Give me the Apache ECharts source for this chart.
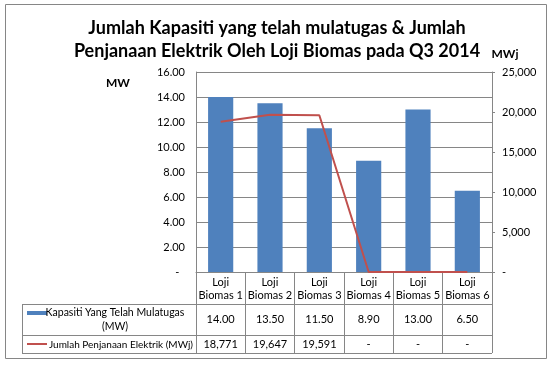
<!DOCTYPE html>
<html>
<head>
<meta charset="utf-8">
<script src="https://cdn.jsdelivr.net/npm/echarts@6/dist/echarts.min.js"></script>
<style>
html,body{margin:0;padding:0;background:#fff;}
#main{width:554px;height:366px;}
</style>
</head>
<body>
<div id="main"></div>
<script>
// ---- data ----
const categories = ['Loji Biomas 1', 'Loji Biomas 2', 'Loji Biomas 3', 'Loji Biomas 4', 'Loji Biomas 5', 'Loji Biomas 6'];
const capacityMW = [14.00, 13.50, 11.50, 8.90, 13.00, 6.50];
const energyMWj = [18771, 19647, 19591, 0, 0, 0];
const seriesNames = ['Kapasiti Yang Telah Mulatugas (MW)', 'Jumlah Penjanaan Elektrik (MWj)'];
const titleLines = ['Jumlah Kapasiti yang telah mulatugas & Jumlah', 'Penjanaan Elektrik Oleh Loji Biomas pada Q3 2014'];
const leftAxisTicks = [0, 2, 4, 6, 8, 10, 12, 14, 16];
const rightAxisTicks = [0, 5000, 10000, 15000, 20000, 25000];

const FONT = 'Lato';
const GRAY = '#868686';
const BLUE = '#4F81BD';
const RED = '#C0504D';

const fmtMW = v => v === 0 ? '-' : v.toFixed(2);
const fmtMWj = v => v === 0 ? '-' : v.toLocaleString('en-US');

const chart = echarts.init(document.getElementById('main'), null, {renderer: 'canvas'});

const GRID = {left: 196, right: 62, top: 72, bottom: 94};

const option = {
  animation: false,
  backgroundColor: '#fff',
  textStyle: {fontFamily: FONT},
  title: {
    text: titleLines.join('\n'),
    left: 'center',
    top: 12,
    textStyle: {fontFamily: FONT, fontWeight: 'bold', fontSize: 18, lineHeight: 23, color: '#000'}
  },
  grid: GRID,
  xAxis: {
    type: 'category',
    data: categories,
    boundaryGap: true,
    axisLine: {show: true, lineStyle: {color: GRAY, width: 1}},
    axisTick: {show: true, interval: 0, length: 81, lineStyle: {color: GRAY, width: 1}},
    axisLabel: {
      interval: 0, margin: 4, fontSize: 11, lineHeight: 13, color: '#000', fontFamily: FONT,
      formatter: v => v.replace(' ', '\n')
    },
    splitLine: {show: false}
  },
  yAxis: [
    {
      type: 'value', min: leftAxisTicks[0], max: leftAxisTicks[leftAxisTicks.length - 1],
      interval: leftAxisTicks[1] - leftAxisTicks[0],
      axisLine: {show: true, lineStyle: {color: GRAY}},
      axisTick: {show: false},
      axisLabel: {margin: 11, fontSize: 11, color: '#000', fontFamily: FONT, formatter: v => v === 0 ? '-  ' : v.toFixed(2)},
      splitLine: {show: true, lineStyle: {color: GRAY, width: 1}}
    },
    {
      type: 'value', min: rightAxisTicks[0], max: rightAxisTicks[rightAxisTicks.length - 1],
      interval: rightAxisTicks[1] - rightAxisTicks[0],
      position: 'right',
      axisLine: {show: true, lineStyle: {color: GRAY}},
      axisTick: {show: true, length: 3, lineStyle: {color: GRAY}},
      axisLabel: {margin: 10, fontSize: 11, color: '#000', fontFamily: FONT, formatter: v => v === 0 ? '-' : v.toLocaleString('en-US')},
      splitLine: {show: false}
    }
  ],
  series: [
    {
      name: seriesNames[0], type: 'bar', yAxisIndex: 0, data: capacityMW,
      barWidth: '51%', itemStyle: {color: BLUE}
    },
    {
      name: seriesNames[1], type: 'line', yAxisIndex: 1, data: energyMWj,
      showSymbol: false, symbol: 'none', lineStyle: {color: RED, width: 2}, itemStyle: {color: RED}
    }
  ]
};
chart.setOption(option);

function buildTable() {
  const xL = GRID.left, xR = 554 - GRID.right;
  const tL = 22;
  const rows = [304, 335, 353];
  const els = [];
  const ln = (x1, y1, x2, y2) => ({type: 'line', silent: true, shape: {x1, y1, x2, y2}, style: {stroke: GRAY, lineWidth: 1}});
  // outer border
  els.push({type: 'rect', silent: true, shape: {x: 5.5, y: 4.5, width: 541, height: 354}, style: {fill: null, stroke: GRAY, lineWidth: 1}});
  // table rules
  rows.forEach(y => els.push(ln(tL, y + 0.5, xR, y + 0.5)));
  els.push(ln(tL + 0.5, rows[0], tL + 0.5, rows[2] + 0.5));
  // legend keys
  els.push({type: 'rect', silent: true, shape: {x: 27, y: 311, width: 20, height: 4}, style: {fill: BLUE}});
  els.push(ln(27, 344, 47, 344));
  els[els.length - 1].style = {stroke: RED, lineWidth: 2};
  els.push({type: 'text', silent: true, x: 115, y: 319.5, style: {text: 'Kapasiti Yang Telah Mulatugas\n(MW)', align: 'center', verticalAlign: 'middle', fontSize: 10.5, lineHeight: 13.5, fontFamily: FONT, fill: '#000'}});
  els.push({type: 'text', silent: true, x: 121, y: 344.5, style: {text: seriesNames[1], align: 'center', verticalAlign: 'middle', fontSize: 10, fontFamily: FONT, fill: '#000'}});
  // values
  categories.forEach((c, i) => {
    const cx = chart.convertToPixel({xAxisIndex: 0}, c);
    els.push({type: 'text', silent: true, x: cx, y: 319.5, style: {text: fmtMW(capacityMW[i]), align: 'center', verticalAlign: 'middle', fontSize: 11, fontFamily: FONT, fill: '#000'}});
    els.push({type: 'text', silent: true, x: cx, y: 344.5, style: {text: fmtMWj(energyMWj[i]), align: 'center', verticalAlign: 'middle', fontSize: 11, fontFamily: FONT, fill: '#000'}});
  });
  // axis unit labels
  els.push({type: 'text', silent: true, x: 118, y: 83, style: {text: 'MW', align: 'center', verticalAlign: 'middle', fontSize: 12, fontWeight: 'bold', fontFamily: FONT, fill: '#000'}});
  els.push({type: 'text', silent: true, x: 505, y: 54, style: {text: 'MWj', align: 'center', verticalAlign: 'middle', fontSize: 12, fontWeight: 'bold', fontFamily: FONT, fill: '#000'}});
  chart.setOption({graphic: {elements: els}});
}
buildTable();
</script>
</body>
</html>
